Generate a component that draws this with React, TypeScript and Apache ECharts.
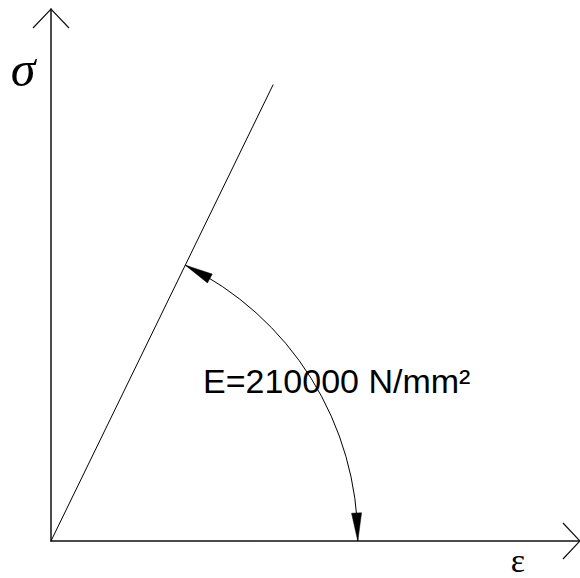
import React, { useEffect, useRef } from "react";
import * as echarts from "echarts";

// Young's modulus of steel, N/mm²
const E_MODULUS = 210000;

// Axis ranges: strain ε (–) and stress σ (N/mm²)
const strainRange = [0, 0.0025];
const stressRange = [0, 257];

// Elastic branch: end strain, stress follows Hooke's law σ = E·ε
const lineStrain = [0, 0.00105];
const lineStress = lineStrain.map((e) => e * E_MODULUS);

// Strain where the dimension arc meets the ε axis (arc radius)
const arcStrain = 0.00145;

const modulusLabel = "E=210000 N/mm²";
const axisNames = ["ε", "σ"];

const W = 580;
const H = 578;

export default function App() {
  const ref = useRef<HTMLDivElement>(null);

  useEffect(() => {
    if (!ref.current) return;
    const chart = echarts.init(ref.current, null, { renderer: "svg" });

    const ARROW_LEN = 28;
    const ARROW_HALF = 5;

    const renderDimension = (params: any, api: any) => {
      const o = api.coord([0, 0]);
      const end = api.coord([lineStrain[1], lineStress[1]]);
      const r = api.coord([arcStrain, 0])[0] - o[0];
      const theta = Math.atan2(o[1] - end[1], end[0] - o[0]);
      const pt = (a: number) => [o[0] + r * Math.cos(a), o[1] + r * Math.sin(a)];
      const head = (tipA: number, baseA: number) => {
        const tip = pt(tipA);
        const base = pt(baseA);
        const dx = tip[0] - base[0];
        const dy = tip[1] - base[1];
        const len = Math.hypot(dx, dy) || 1;
        const nx = -dy / len;
        const ny = dx / len;
        return {
          type: "polygon",
          shape: {
            points: [
              tip,
              [base[0] + nx * ARROW_HALF, base[1] + ny * ARROW_HALF],
              [base[0] - nx * ARROW_HALF, base[1] - ny * ARROW_HALF],
            ],
          },
          style: { fill: "#000", stroke: "#000", lineWidth: 0.5 },
        };
      };
      const da = ARROW_LEN / r;

      // Open chevrons at the ends of both axes
      const yTip = api.coord([0, stressRange[1]]);
      const xTip = api.coord([strainRange[1], 0]);
      const chevronStyle = { stroke: "#111", lineWidth: 1.2, fill: null };

      return {
        type: "group",
        children: [
          {
            type: "arc",
            shape: { cx: o[0], cy: o[1], r, startAngle: -theta, endAngle: 0, clockwise: true },
            style: { stroke: "#000", lineWidth: 1, fill: null },
          },
          head(-theta, -theta + da),
          head(0, -da),
          {
            type: "polyline",
            shape: { points: [[yTip[0] - 18, yTip[1] + 19], yTip, [yTip[0] + 18, yTip[1] + 19]] },
            style: chevronStyle,
          },
          {
            type: "polyline",
            shape: { points: [[xTip[0] - 17, xTip[1] - 18], xTip, [xTip[0] - 17, xTip[1] + 18]] },
            style: chevronStyle,
          },
        ],
      };
    };

    chart.setOption({
      animation: false,
      backgroundColor: "#fff",
      grid: { left: 51, top: 9, right: 0, bottom: 37, containLabel: false },
      xAxis: {
        type: "value",
        min: strainRange[0],
        max: strainRange[1],
        axisLine: { show: true, lineStyle: { color: "#111", width: 1.5 } },
        axisTick: { show: false },
        axisLabel: { show: false },
        splitLine: { show: false },
      },
      yAxis: {
        type: "value",
        min: stressRange[0],
        max: stressRange[1],
        axisLine: { show: true, lineStyle: { color: "#111", width: 1.5 } },
        axisTick: { show: false },
        axisLabel: { show: false },
        splitLine: { show: false },
      },
      series: [
        {
          type: "line",
          data: lineStrain.map((e, i) => [e, lineStress[i]]),
          symbol: "none",
          lineStyle: { color: "#000", width: 1 },
          silent: true,
        },
        {
          type: "custom",
          coordinateSystem: "cartesian2d",
          clip: false,
          silent: true,
          data: [[0, 0]],
          renderItem: renderDimension,
        },
      ],
      graphic: [
        {
          type: "text",
          left: 203,
          top: 364,
          style: {
            text: modulusLabel,
            fill: "#000",
            font: "34px 'Liberation Sans', Arial, sans-serif",
          },
          z: 10,
        },
        {
          type: "text",
          x: 23,
          y: 69,
          style: {
            text: axisNames[1],
            fill: "#000",
            align: "center",
            verticalAlign: "middle",
            font: "italic 50px 'Liberation Serif', serif",
          },
        },
        {
          type: "text",
          x: 518,
          y: 560,
          style: {
            text: axisNames[0],
            fill: "#000",
            align: "center",
            verticalAlign: "middle",
            font: "34px 'Liberation Serif', serif",
          },
        },
      ],
    });

    return () => chart.dispose();
  }, []);

  return (
    <div
      ref={ref}
      style={{ position: "fixed", left: 0, top: 0, width: W, height: H, background: "#fff" }}
    />
  );
}
